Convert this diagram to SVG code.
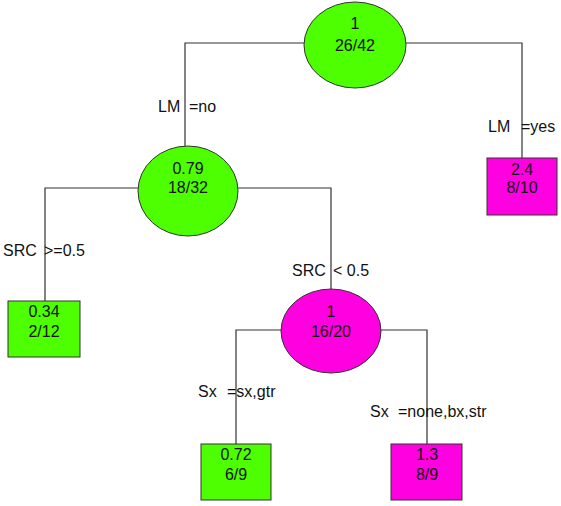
<svg xmlns="http://www.w3.org/2000/svg" width="561" height="506" viewBox="0 0 561 506">
<style>
.g{fill:#4dff00;stroke:#333;stroke-width:1}
.m{fill:#ff00e0;stroke:#333;stroke-width:1}
.e{stroke:#333;stroke-width:1.2;fill:none}
text{font-family:"Liberation Sans",Arial,sans-serif;font-size:16px;fill:#111}
.c{text-anchor:middle}
</style>
<rect width="561" height="506" fill="#fff"/>
<g id="connectors">
<path class="e" d="M185,147 V43 H305 M405,43 H522 V158"/>
<path class="e" d="M45,301 V188 H138 M238,188 H331 V289"/>
<path class="e" d="M236,444 V330 H281 M381,330 H427 V444"/>
<text x="158" y="112">LM</text><text x="189" y="112">=no</text>
<text x="488" y="132">LM</text><text x="521" y="132">=yes</text>
<text x="3" y="256">SRC</text><text x="44" y="256">&gt;=0.5</text>
<text x="292" y="276">SRC</text><text x="333" y="276">&lt; 0.5</text>
<text x="198" y="397">Sx</text><text x="227" y="397">=sx,gtr</text>
<text x="370" y="417">Sx</text><text x="398" y="417">=none,bx,str</text>
</g>
<g id="n1"><ellipse class="g" cx="355" cy="45" rx="51" ry="43"/><text class="c" x="355" y="29">1</text><text class="c" x="355" y="51">26/42</text></g>
<g id="n2"><ellipse class="g" cx="188" cy="191" rx="50" ry="45"/><text class="c" x="188" y="174">0.79</text><text class="c" x="188" y="193">18/32</text></g>
<g id="n3"><rect class="m" x="487" y="158" width="70" height="57"/><text class="c" x="522" y="175">2.4</text><text class="c" x="522" y="193">8/10</text></g>
<g id="n4"><rect class="g" x="8" y="301" width="72" height="56"/><text class="c" x="44" y="317">0.34</text><text class="c" x="44" y="337">2/12</text></g>
<g id="n5"><ellipse class="m" cx="331" cy="331" rx="50" ry="42"/><text class="c" x="331" y="317">1</text><text class="c" x="331" y="337">16/20</text></g>
<g id="n6"><rect class="g" x="201" y="444" width="70" height="56"/><text class="c" x="236" y="460">0.72</text><text class="c" x="236" y="480">6/9</text></g>
<g id="n7"><rect class="m" x="391" y="444" width="71" height="56"/><text class="c" x="427" y="460">1.3</text><text class="c" x="427" y="480">8/9</text></g>
</svg>
